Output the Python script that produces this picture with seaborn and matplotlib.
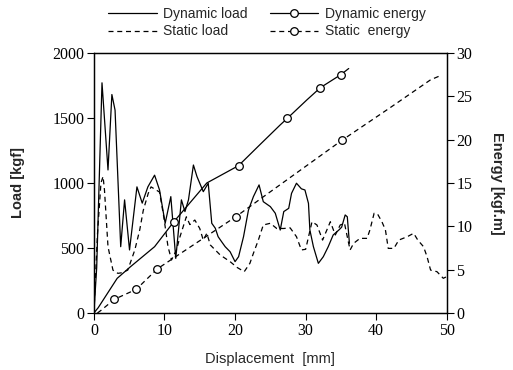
import seaborn as sns
import matplotlib.pyplot as plt
from matplotlib.lines import Line2D

# dynamic load [kgf] vs displacement [mm]
dyn_load_x = [0, 0.4, 1.15, 2.0, 2.55, 3.0, 3.8, 4.35, 5.05, 6.1, 6.85, 7.65, 8.6, 9.3,
              10.1, 10.9, 11.6, 12.4, 12.9, 13.4, 14.1, 14.6, 15.0, 15.5, 16.2, 16.7,
              17.2, 17.6, 18.1, 18.6, 19.3, 20.0, 20.5, 21.2, 21.9, 22.6, 23.4, 24.0,
              25.0, 25.7, 26.4, 26.9, 27.6, 28.0, 28.7, 29.4, 29.9, 30.4, 30.6, 31.1,
              31.8, 32.5, 33.2, 33.9, 34.7, 35.1, 35.6, 35.9, 36.2]
dyn_load_y = [0, 350, 1770, 1100, 1680, 1560, 510, 870, 485, 970, 845, 970, 1060, 946,
              690, 895, 420, 870, 780, 870, 1138, 1050, 998, 933, 998, 690,
              652, 587, 548, 510, 471, 395, 433, 587, 792, 895, 985, 856,
              818, 767, 638, 780, 805, 920, 998, 955, 946, 843, 638, 510,
              382, 433, 510, 600, 638, 660, 754, 740, 536]

# static load
stat_load_x = [0, 0.5, 1.0, 1.3, 1.5, 2.0, 2.7, 3.4, 4.0, 4.8, 5.8, 6.5, 7.0, 7.7, 8.1,
               9.3, 9.9, 10.5, 11.0, 11.7, 12.2, 13.1, 13.6, 14.3, 15.0, 15.5, 16.0,
               16.5, 17.9, 19.3, 20.3, 21.3, 22.1, 22.6, 23.3, 24.0, 25.0, 25.9, 26.9,
               27.8, 28.7, 29.4, 30.0, 30.9, 31.6, 32.4, 33.0, 33.5, 34.2, 34.9, 35.5,
               36.0, 36.3, 36.8, 37.7, 38.7, 39.1, 39.7, 40.2, 40.8, 41.3, 41.7, 42.5,
               43.2, 44.4, 45.3, 45.9, 46.7, 47.2, 47.7, 48.6, 49.5, 50.0]
stat_load_y = [0, 600, 1000, 1050, 946, 510, 330, 305, 310, 330, 485, 640, 790, 920, 970,
               930, 740, 510, 408, 485, 587, 740, 680, 715, 650, 560, 613,
               523, 446, 395, 350, 318, 382, 459, 561, 677, 690, 650, 650,
               655, 587, 485, 490, 702, 677, 561, 638, 702, 600, 677, 690,
               560, 485, 536, 574, 574, 638, 767, 760, 702, 640, 497, 497,
               561, 587, 613, 560, 510, 433, 330, 318, 267, 280]

# dynamic energy [kgf.m]
dyn_en_x = [0, 0.6, 3.3, 5.2, 8.6, 11.3, 16.0, 20.5, 23.5, 26.4, 27.4, 30.2, 32.1, 35.0, 36.1]
dyn_en_y = [0, 0.6, 4.0, 5.35, 7.65, 10.5, 15.0, 17.0, 19.4, 21.7, 22.45, 24.6, 26.0, 27.5, 28.2]
dyn_en_marks = [5, 7, 10, 12, 13]

# static energy
stat_en_x = [0.5, 1.0, 2.9, 6.0, 9.0, 20.1, 24.0, 35.1, 42.0, 47.7, 49.3]
stat_en_y = [0, 0.3, 1.58, 2.73, 5.1, 11.1, 13.4, 19.9, 23.7, 26.9, 27.45]
stat_en_marks = [2, 3, 4, 5, 7]

load_ticks = [0, 500, 1000, 1500, 2000]
energy_ticks = [0, 5, 10, 15, 20, 25, 30]
disp_ticks = [0, 10, 20, 30, 40, 50]

sns.set_style("ticks")
plt.rcParams['font.family'] = ['Liberation Sans', 'DejaVu Sans']

fig = plt.figure(figsize=(5.13, 3.70), dpi=100)
ax = fig.add_axes([0.183, 0.154, 0.688, 0.703])
ax2 = ax.twinx()

lw = 0.9
dash = (4, 3)
sns.lineplot(x=dyn_load_x, y=dyn_load_y, ax=ax, color='black', lw=lw, sort=False)
sns.lineplot(x=stat_load_x, y=stat_load_y, ax=ax, color='black', lw=lw, sort=False,
             linestyle=(0, dash))
sns.lineplot(x=dyn_en_x, y=dyn_en_y, ax=ax2, color='black', lw=lw, sort=False,
             marker='o', markevery=dyn_en_marks, markersize=5.5,
             markerfacecolor='white', markeredgecolor='black', markeredgewidth=0.9)
sns.lineplot(x=stat_en_x, y=stat_en_y, ax=ax2, color='black', lw=lw, sort=False,
             linestyle=(0, dash), marker='o', markevery=stat_en_marks, markersize=5.5,
             markerfacecolor='white', markeredgecolor='black', markeredgewidth=0.9)

ax.set_xlim(0, 50)
ax.set_ylim(0, 2000)
ax2.set_ylim(0, 30)
ax.set_xticks(disp_ticks)
ax.set_yticks(load_ticks)
ax2.set_yticks(energy_ticks)

for a in (ax, ax2):
    for lab in a.get_xticklabels() + a.get_yticklabels():
        lab.set_fontfamily('Liberation Serif')
        lab.set_fontsize(11.5)
    a.tick_params(direction='out', length=5, width=0.8, colors='black', pad=2)
    for sp in a.spines.values():
        sp.set_visible(True)
        sp.set_linewidth(0.9)
        sp.set_color('black')

ax.set_xlabel("Displacement  [mm]", fontsize=10.5, va='center')
ax.set_ylabel("Load [kgf]", fontsize=10.5, fontweight='bold', va='center')
ax2.set_ylabel("Energy [kgf.m]", fontsize=10.5, fontweight='bold', rotation=270,
               va='center')
ax.xaxis.set_label_coords(0.5, -0.177)
ax.yaxis.set_label_coords(-0.215, 0.5)
ax2.yaxis.set_label_coords(1.142, 0.5)

handles = [
    Line2D([], [], color='black', lw=lw),
    Line2D([], [], color='black', lw=lw, linestyle=(0, dash)),
    Line2D([], [], color='black', lw=lw, marker='o', markersize=5.5,
           markerfacecolor='white', markevery=[1], markeredgewidth=0.9),
    Line2D([], [], color='black', lw=lw, linestyle=(0, dash), marker='o', markersize=5.5,
           markerfacecolor='white', markevery=[1], markeredgewidth=0.9),
]
for h in handles:
    h.set_data([0, 0.5, 1], [0, 0, 0])
labels = ["Dynamic load", "Static load", "Dynamic energy", "Static  energy"]
fig.legend(handles, labels, ncol=2, loc='upper center', bbox_to_anchor=(0.52, 1.015),
           frameon=False, fontsize=10, handlelength=3.5, handletextpad=0.45,
           columnspacing=1.6, labelspacing=0.25)

plt.savefig("out.png", dpi=100)
